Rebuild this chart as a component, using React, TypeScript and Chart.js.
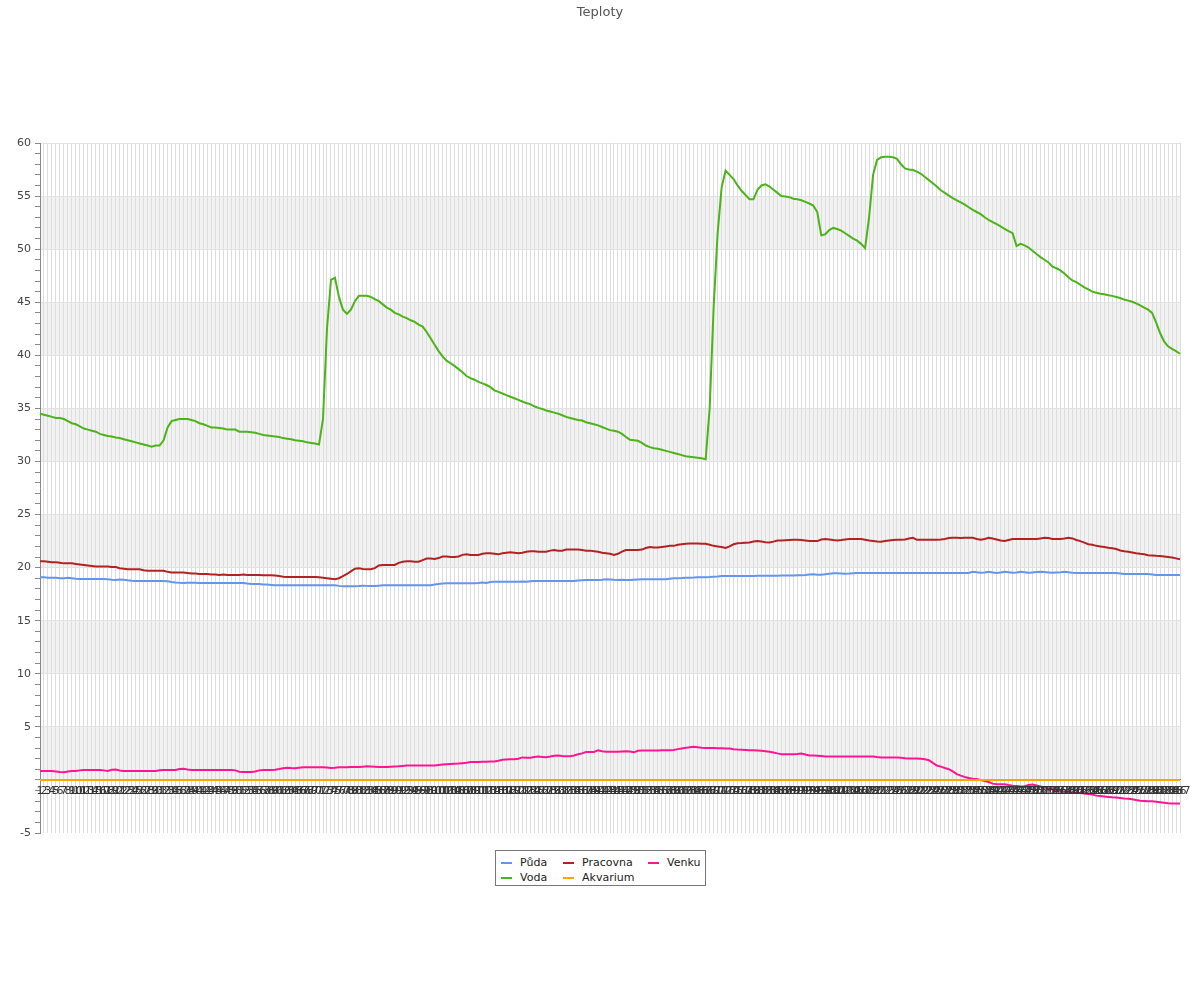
import React, { useEffect, useRef } from 'react';
import { Chart, registerables } from 'chart.js';

Chart.register(...registerables);

const FONT = "'DejaVu Sans', Verdana, sans-serif";

const PUDA = [
  19.1, 19.1, 19.05, 19.05, 19.05, 19.0, 19.0, 19.05, 19.0, 18.95,
  18.93, 18.93, 18.93, 18.93, 18.93, 18.93, 18.93, 18.9, 18.85, 18.83,
  18.88, 18.85, 18.8, 18.76, 18.74, 18.74, 18.74, 18.74, 18.74, 18.74,
  18.74, 18.74, 18.72, 18.65, 18.6, 18.57, 18.55, 18.57, 18.58, 18.57,
  18.55, 18.55, 18.55, 18.55, 18.55, 18.55, 18.55, 18.55, 18.55, 18.55,
  18.55, 18.55, 18.5, 18.46, 18.45, 18.45, 18.42, 18.4, 18.37, 18.34,
  18.33, 18.33, 18.33, 18.33, 18.33, 18.33, 18.33, 18.33, 18.33, 18.33,
  18.33, 18.33, 18.33, 18.33, 18.33, 18.28, 18.24, 18.24, 18.24, 18.24,
  18.26, 18.3, 18.28, 18.26, 18.27, 18.3, 18.33, 18.33, 18.33, 18.33,
  18.33, 18.33, 18.33, 18.33, 18.33, 18.33, 18.33, 18.33, 18.33, 18.4,
  18.45, 18.5, 18.52, 18.52, 18.52, 18.52, 18.52, 18.52, 18.52, 18.52,
  18.55, 18.6, 18.55, 18.65, 18.68, 18.68, 18.68, 18.68, 18.68, 18.68,
  18.68, 18.7, 18.68, 18.72, 18.74, 18.74, 18.74, 18.74, 18.74, 18.74,
  18.74, 18.74, 18.74, 18.74, 18.74, 18.78, 18.82, 18.83, 18.83, 18.83,
  18.83, 18.86, 18.9, 18.88, 18.85, 18.83, 18.85, 18.83, 18.83, 18.86,
  18.88, 18.9, 18.9, 18.9, 18.9, 18.9, 18.9, 18.9, 18.95, 19.0,
  19.0, 19.02, 19.05, 19.05, 19.07, 19.1, 19.1, 19.1, 19.12, 19.15,
  19.17, 19.2, 19.2, 19.22, 19.22, 19.22, 19.22, 19.22, 19.22, 19.22,
  19.23, 19.23, 19.23, 19.24, 19.24, 19.24, 19.25, 19.25, 19.25, 19.25,
  19.27, 19.27, 19.3, 19.35, 19.37, 19.33, 19.33, 19.38, 19.42, 19.46,
  19.46, 19.45, 19.43, 19.45, 19.48, 19.5, 19.5, 19.5, 19.5, 19.5,
  19.5, 19.5, 19.5, 19.5, 19.5, 19.5, 19.5, 19.5, 19.5, 19.5,
  19.5, 19.5, 19.5, 19.5, 19.5, 19.5, 19.5, 19.5, 19.5, 19.5,
  19.5, 19.5, 19.5, 19.5, 19.6, 19.57, 19.52, 19.55, 19.6, 19.55,
  19.5, 19.55, 19.6, 19.57, 19.52, 19.53, 19.6, 19.57, 19.52, 19.55,
  19.58, 19.6, 19.58, 19.55, 19.52, 19.55, 19.57, 19.6, 19.57, 19.52,
  19.5, 19.5, 19.5, 19.5, 19.5, 19.5, 19.5, 19.5, 19.5, 19.5,
  19.5, 19.45, 19.4, 19.4, 19.4, 19.4, 19.4, 19.4, 19.4, 19.35,
  19.3, 19.3, 19.3, 19.3, 19.3, 19.3, 19.3,
];

const VODA = [
  34.5, 34.4, 34.3, 34.2, 34.1, 34.1, 34.0, 33.8, 33.6, 33.5,
  33.3, 33.1, 33.0, 32.9, 32.8, 32.6, 32.5, 32.4, 32.35, 32.25,
  32.2, 32.1, 32.0, 31.9, 31.8, 31.7, 31.6, 31.5, 31.4, 31.5,
  31.5, 32.0, 33.2, 33.8, 33.9, 34.0, 34.0, 34.0, 33.9, 33.8,
  33.6, 33.5, 33.35, 33.2, 33.2, 33.15, 33.1, 33.0, 33.0, 33.0,
  32.8, 32.8, 32.8, 32.75, 32.7, 32.6, 32.5, 32.45, 32.4, 32.35,
  32.3, 32.2, 32.15, 32.1, 32.0, 31.95, 31.9, 31.8, 31.75, 31.7,
  31.6, 34.0, 42.5, 47.1, 47.3, 45.5, 44.3, 43.9, 44.3, 45.1,
  45.6, 45.6, 45.6, 45.5, 45.3, 45.1, 44.8, 44.5, 44.3, 44.0,
  43.85, 43.65, 43.5, 43.3, 43.15, 42.9, 42.7, 42.2, 41.6, 41.0,
  40.4, 39.9, 39.5, 39.25, 39.0, 38.7, 38.4, 38.05, 37.85, 37.7,
  37.5, 37.35, 37.2, 37.0, 36.7, 36.55, 36.4, 36.25, 36.1, 35.95,
  35.8, 35.65, 35.5, 35.4, 35.2, 35.05, 34.95, 34.8, 34.7, 34.6,
  34.5, 34.35, 34.2, 34.1, 34.0, 33.9, 33.85, 33.7, 33.6, 33.5,
  33.4, 33.25, 33.1, 32.95, 32.9, 32.8, 32.6, 32.3, 32.05, 32.0,
  31.95, 31.75, 31.5, 31.35, 31.25, 31.2, 31.1, 31.0, 30.9, 30.8,
  30.7, 30.6, 30.5, 30.45, 30.4, 30.35, 30.3, 30.2, 35.0, 44.5,
  51.5, 55.8, 57.4, 57.0, 56.6, 56.0, 55.5, 55.1, 54.7, 54.7,
  55.6, 56.0, 56.1, 55.9, 55.6, 55.3, 55.0, 54.95, 54.9, 54.75,
  54.7, 54.6, 54.45, 54.3, 54.1, 53.5, 51.3, 51.4, 51.8, 52.0,
  51.9, 51.75, 51.5, 51.25, 51.0, 50.8, 50.5, 50.1, 53.0, 57.0,
  58.4, 58.65, 58.7, 58.7, 58.65, 58.5, 58.0, 57.6, 57.5, 57.45,
  57.3, 57.1, 56.8, 56.5, 56.2, 55.9, 55.55, 55.3, 55.05, 54.8,
  54.6, 54.4, 54.2, 53.95, 53.7, 53.5, 53.3, 53.0, 52.75, 52.55,
  52.35, 52.15, 51.9, 51.7, 51.5, 50.3, 50.5, 50.35, 50.15, 49.85,
  49.55, 49.25, 49.0, 48.75, 48.35, 48.2, 48.0, 47.7, 47.35, 47.05,
  46.9, 46.65, 46.4, 46.2, 46.0, 45.9, 45.8, 45.75, 45.65, 45.6,
  45.5, 45.4, 45.25, 45.15, 45.05, 44.9, 44.7, 44.5, 44.3, 44.0,
  43.1, 42.1, 41.3, 40.85, 40.6, 40.4, 40.15,
];

const PRACOVNA = [
  20.6, 20.6, 20.55, 20.5, 20.5, 20.45, 20.4, 20.4, 20.4, 20.35,
  20.3, 20.25, 20.2, 20.15, 20.1, 20.1, 20.1, 20.1, 20.05, 20.05,
  19.95, 19.9, 19.85, 19.85, 19.85, 19.85, 19.75, 19.7, 19.7, 19.7,
  19.7, 19.7, 19.6, 19.55, 19.55, 19.55, 19.55, 19.5, 19.45, 19.45,
  19.4, 19.4, 19.4, 19.35, 19.35, 19.3, 19.35, 19.3, 19.3, 19.3,
  19.3, 19.35, 19.3, 19.3, 19.3, 19.3, 19.28, 19.27, 19.27, 19.25,
  19.2, 19.15, 19.12, 19.12, 19.12, 19.12, 19.12, 19.12, 19.12, 19.12,
  19.1, 19.05, 19.0, 18.95, 18.9, 19.0, 19.2, 19.4, 19.65, 19.9,
  19.95, 19.88, 19.85, 19.85, 19.95, 20.2, 20.25, 20.25, 20.25, 20.25,
  20.45, 20.55, 20.6, 20.6, 20.55, 20.55, 20.7, 20.85, 20.85, 20.82,
  20.9, 21.05, 21.05, 21.0, 21.0, 21.05, 21.2, 21.25, 21.2, 21.2,
  21.2, 21.3, 21.35, 21.35, 21.3, 21.25, 21.35, 21.4, 21.45, 21.4,
  21.35, 21.4, 21.5, 21.55, 21.55, 21.5, 21.5, 21.5, 21.6, 21.65,
  21.6, 21.6, 21.7, 21.7, 21.7, 21.7, 21.65, 21.6, 21.6, 21.55,
  21.5, 21.4, 21.35, 21.3, 21.2, 21.3, 21.5, 21.65, 21.67, 21.67,
  21.67, 21.7, 21.85, 21.95, 21.9, 21.9, 21.95, 22.0, 22.05, 22.05,
  22.15, 22.2, 22.25, 22.27, 22.27, 22.27, 22.25, 22.25, 22.15, 22.05,
  22.0, 21.95, 21.86, 22.0, 22.2, 22.3, 22.32, 22.35, 22.37, 22.45,
  22.5, 22.45, 22.4, 22.37, 22.45, 22.56, 22.56, 22.58, 22.6, 22.62,
  22.62, 22.6, 22.55, 22.5, 22.5, 22.5, 22.65, 22.69, 22.65, 22.6,
  22.56, 22.6, 22.65, 22.69, 22.69, 22.69, 22.69, 22.62, 22.55, 22.5,
  22.45, 22.43, 22.5, 22.55, 22.6, 22.62, 22.62, 22.65, 22.75, 22.81,
  22.62, 22.62, 22.62, 22.62, 22.62, 22.62, 22.65, 22.7, 22.78, 22.81,
  22.81, 22.8, 22.81, 22.81, 22.81, 22.7, 22.62, 22.7, 22.8, 22.75,
  22.65, 22.55, 22.5, 22.6, 22.69, 22.69, 22.69, 22.69, 22.69, 22.69,
  22.69, 22.75, 22.81, 22.78, 22.7, 22.7, 22.7, 22.75, 22.81, 22.75,
  22.6, 22.5, 22.35, 22.2, 22.15, 22.05, 22.0, 21.95, 21.87, 21.83,
  21.75, 21.62, 21.55, 21.5, 21.43, 21.36, 21.3, 21.25, 21.17, 21.15,
  21.12, 21.1, 21.05, 21.0, 20.95, 20.87, 20.79,
];

const AKVARIUM = [
  0, 0, 0, 0, 0, 0, 0, 0, 0, 0,
  0, 0, 0, 0, 0, 0, 0, 0, 0, 0,
  0, 0, 0, 0, 0, 0, 0, 0, 0, 0,
  0, 0, 0, 0, 0, 0, 0, 0, 0, 0,
  0, 0, 0, 0, 0, 0, 0, 0, 0, 0,
  0, 0, 0, 0, 0, 0, 0, 0, 0, 0,
  0, 0, 0, 0, 0, 0, 0, 0, 0, 0,
  0, 0, 0, 0, 0, 0, 0, 0, 0, 0,
  0, 0, 0, 0, 0, 0, 0, 0, 0, 0,
  0, 0, 0, 0, 0, 0, 0, 0, 0, 0,
  0, 0, 0, 0, 0, 0, 0, 0, 0, 0,
  0, 0, 0, 0, 0, 0, 0, 0, 0, 0,
  0, 0, 0, 0, 0, 0, 0, 0, 0, 0,
  0, 0, 0, 0, 0, 0, 0, 0, 0, 0,
  0, 0, 0, 0, 0, 0, 0, 0, 0, 0,
  0, 0, 0, 0, 0, 0, 0, 0, 0, 0,
  0, 0, 0, 0, 0, 0, 0, 0, 0, 0,
  0, 0, 0, 0, 0, 0, 0, 0, 0, 0,
  0, 0, 0, 0, 0, 0, 0, 0, 0, 0,
  0, 0, 0, 0, 0, 0, 0, 0, 0, 0,
  0, 0, 0, 0, 0, 0, 0, 0, 0, 0,
  0, 0, 0, 0, 0, 0, 0, 0, 0, 0,
  0, 0, 0, 0, 0, 0, 0, 0, 0, 0,
  0, 0, 0, 0, 0, 0, 0, 0, 0, 0,
  0, 0, 0, 0, 0, 0, 0, 0, 0, 0,
  0, 0, 0, 0, 0, 0, 0, 0, 0, 0,
  0, 0, 0, 0, 0, 0, 0, 0, 0, 0,
  0, 0, 0, 0, 0, 0, 0, 0, 0, 0,
  0, 0, 0, 0, 0, 0, 0,
];

const VENKU = [
  0.85, 0.85, 0.85, 0.85, 0.8, 0.75, 0.72, 0.8, 0.85, 0.85,
  0.9, 0.94, 0.94, 0.94, 0.94, 0.94, 0.9, 0.85, 0.95, 0.97,
  0.88, 0.85, 0.85, 0.85, 0.85, 0.85, 0.85, 0.85, 0.85, 0.85,
  0.92, 0.94, 0.94, 0.94, 0.94, 1.02, 1.05, 0.98, 0.94, 0.94,
  0.94, 0.94, 0.94, 0.94, 0.94, 0.94, 0.94, 0.94, 0.94, 0.9,
  0.78, 0.75, 0.75, 0.75, 0.8, 0.9, 0.94, 0.94, 0.94, 0.96,
  1.02, 1.1, 1.15, 1.12, 1.1, 1.15, 1.19, 1.19, 1.19, 1.19,
  1.19, 1.19, 1.17, 1.12, 1.15, 1.19, 1.2, 1.2, 1.21, 1.22,
  1.22, 1.25, 1.28, 1.26, 1.24, 1.22, 1.22, 1.22, 1.24, 1.26,
  1.28, 1.32, 1.35, 1.35, 1.35, 1.35, 1.35, 1.35, 1.35, 1.35,
  1.4, 1.45, 1.48, 1.5, 1.52, 1.54, 1.58, 1.62, 1.68, 1.7,
  1.7, 1.71, 1.72, 1.73, 1.73, 1.8, 1.9, 1.93, 1.95, 1.95,
  2.0, 2.12, 2.1, 2.08, 2.15, 2.2, 2.17, 2.14, 2.2, 2.28,
  2.3, 2.25, 2.24, 2.24, 2.3, 2.42, 2.5, 2.62, 2.64, 2.64,
  2.8, 2.7, 2.65, 2.65, 2.65, 2.65, 2.68, 2.71, 2.68, 2.6,
  2.75, 2.78, 2.78, 2.78, 2.78, 2.78, 2.79, 2.8, 2.8, 2.81,
  2.9, 2.97, 3.02, 3.08, 3.13, 3.08, 3.03, 3.0, 3.0, 3.0,
  2.99, 2.98, 2.97, 2.97, 2.9, 2.87, 2.85, 2.83, 2.8, 2.79,
  2.78, 2.75, 2.7, 2.65, 2.58, 2.5, 2.43, 2.43, 2.43, 2.43,
  2.45, 2.49, 2.4, 2.3, 2.3, 2.28, 2.25, 2.21, 2.21, 2.21,
  2.21, 2.21, 2.21, 2.21, 2.21, 2.21, 2.21, 2.21, 2.21, 2.21,
  2.15, 2.11, 2.11, 2.11, 2.11, 2.11, 2.08, 2.04, 2.02, 2.02,
  2.02, 2.0, 1.95, 1.86, 1.6, 1.36, 1.25, 1.12, 1.01, 0.8,
  0.55, 0.4, 0.28, 0.19, 0.12, 0.08, 0.0, -0.1, -0.2, -0.35,
  -0.41, -0.41, -0.41, -0.48, -0.54, -0.58, -0.62, -0.6, -0.48, -0.44,
  -0.52, -0.62, -0.72, -0.82, -0.9, -0.98, -1.05, -1.08, -1.12, -1.18,
  -1.2, -1.24, -1.28, -1.32, -1.38, -1.48, -1.52, -1.56, -1.6, -1.64,
  -1.66, -1.7, -1.74, -1.77, -1.82, -1.9, -1.96, -1.98, -2.0, -2.02,
  -2.05, -2.1, -2.15, -2.2, -2.21, -2.21, -2.21,
];

const LABELS = PUDA.map((_, i) => String(i + 1));

const TITLE = 'Teploty';
const Y_MIN = -5;
const Y_MAX = 60;
const BAND_STARTS = [0, 10, 20, 30, 40, 50];

const SERIES = [
  { label: 'Půda', data: PUDA, color: '#6495ed' },
  { label: 'Voda', data: VODA, color: '#4cb319' },
  { label: 'Pracovna', data: PRACOVNA, color: '#b22222' },
  { label: 'Akvarium', data: AKVARIUM, color: '#ffa500' },
  { label: 'Venku', data: VENKU, color: '#ff1493' },
];

// legend layout: column-major, like the reference
const LEGEND_ITEMS = [
  { s: 0, col: 0, row: 0 },
  { s: 1, col: 0, row: 1 },
  { s: 2, col: 1, row: 0 },
  { s: 3, col: 1, row: 1 },
  { s: 4, col: 2, row: 0 },
];
const LEGEND_COL_X = [5, 67, 152];
const LEGEND_ROW_Y = [4, 19];

const bandPlugin = {
  id: 'bands',
  beforeDraw(chart: any) {
    const { ctx, chartArea, scales } = chart;
    const y = scales.y;
    ctx.save();
    ctx.fillStyle = '#f2f2f2';
    for (const b of BAND_STARTS) {
      const top = y.getPixelForValue(b + 5);
      const bottom = y.getPixelForValue(b);
      ctx.fillRect(chartArea.left, top, chartArea.right - chartArea.left, bottom - top);
    }
    ctx.restore();
  },
};

export default function App() {
  const ref = useRef<HTMLCanvasElement | null>(null);

  useEffect(() => {
    if (!ref.current) return;
    const chart = new Chart(ref.current, {
      type: 'line',
      data: {
        labels: LABELS,
        datasets: SERIES.map((s) => ({
          label: s.label,
          data: s.data,
          borderColor: s.color,
          backgroundColor: s.color,
          borderWidth: 2,
          pointRadius: 0,
          pointHoverRadius: 0,
          fill: false,
          tension: 0,
        })),
      },
      options: {
        animation: false,
        responsive: false,
        maintainAspectRatio: false,
        devicePixelRatio: 1,
        events: [],
        layout: { padding: { top: 0, left: 0, right: 0, bottom: 167 } },
        plugins: {
          legend: { display: false },
          tooltip: { enabled: false },
          title: {
            display: true,
            text: TITLE,
            color: '#555',
            font: { family: FONT, size: 13, weight: 'normal' },
            padding: { top: 5, bottom: 122.4 },
          },
        },
        scales: {
          x: {
            type: 'category',
            position: { y: 0 } as any,
            offset: false,
            grid: { color: '#dddddd', lineWidth: 1, drawTicks: false },
            border: { display: true, color: '#888' },
            ticks: {
              autoSkip: false,
              maxRotation: 0,
              minRotation: 0,
              padding: 5,
              color: '#333',
              font: { family: FONT, size: 11 },
              z: 1,
            },
          },
          y: {
            min: Y_MIN,
            max: Y_MAX,
            ticks: {
              stepSize: 1,
              autoSkip: false,
              padding: 4,
              color: '#444',
              font: { family: FONT, size: 11 },
              callback: (v: any) => (Number(v) % 5 === 0 && Number(v) !== 0 ? String(v) : ''),
            },
            grid: {
              color: (c: any) => {
                const v = c.tick ? c.tick.value : NaN;
                return v % 5 === 0 && v !== 0 && v !== Y_MIN ? '#e2e2e2' : 'rgba(0,0,0,0)';
              },
              tickColor: '#888',
              tickLength: 5,
            },
            border: { display: true, color: '#888' },
            afterFit: (s: any) => {
              s.width = 40;
            },
          },
          yRight: {
            type: 'linear',
            position: 'right',
            display: true,
            min: Y_MIN,
            max: Y_MAX,
            grid: { display: false, drawTicks: false },
            border: { display: false },
            ticks: { display: false },
            afterFit: (s: any) => {
              s.width = 20;
            },
          },
        },
      } as any,
      plugins: [bandPlugin],
    });
    return () => chart.destroy();
  }, []);

  return (
    <div style={{ position: 'absolute', left: 0, top: 0, width: 1200, height: 1000, background: '#fff' }}>
      <canvas ref={ref} width={1200} height={1000} style={{ display: 'block', width: 1200, height: 1000 }} />
      <div
        style={{
          position: 'absolute',
          left: 495,
          top: 850,
          width: 211,
          height: 36,
          boxSizing: 'border-box',
          border: '1px solid #777',
          background: '#fff',
          fontFamily: FONT,
          fontSize: 11,
          color: '#222',
        }}
      >
        {LEGEND_ITEMS.map((it) => {
          const s = SERIES[it.s];
          return (
            <div
              key={s.label}
              style={{
                position: 'absolute',
                left: LEGEND_COL_X[it.col],
                top: LEGEND_ROW_Y[it.row],
                height: 15,
                lineHeight: '15px',
                display: 'flex',
                alignItems: 'center',
                whiteSpace: 'nowrap',
              }}
            >
              <span style={{ display: 'inline-block', width: 11, height: 2, background: s.color, marginRight: 8 }} />
              <span>{s.label}</span>
            </div>
          );
        })}
      </div>
    </div>
  );
}
